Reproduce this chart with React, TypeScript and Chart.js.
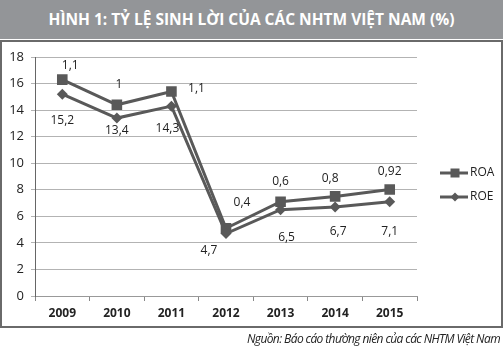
import React, { useEffect, useRef } from "react";
import { Chart, registerables } from "chart.js";

Chart.register(...registerables);

const TITLE = "HÌNH 1: TỶ LỆ SINH LỜI CỦA CÁC NHTM VIỆT NAM (%)";
const SOURCE = "Nguồn: Báo cáo thường niên của các NHTM Việt Nam";
const years = ["2009", "2010", "2011", "2012", "2013", "2014", "2015"];
const roe = [15.2, 13.4, 14.3, 4.7, 6.5, 6.7, 7.1];
const roa = [1.1, 1, 1.1, 0.4, 0.6, 0.8, 0.92];
const yTicks = [0, 2, 4, 6, 8, 10, 12, 14, 16, 18];

const LINE = "#595959";

const fmt = (v: number) => String(v).replace(".", ",");

// label offsets (dx, dy) relative to each point, per dataset
const labelOffsets: Record<string, [number, number][]> = {
  ROA: [[8, -14], [2, -20], [25, -3], [16, -26], [0, -20], [-5, -18], [0, -18]],
  ROE: [[0, 26], [0, 13], [-4, 22], [-17, 17], [6, 28], [3, 25], [0, 30]],
};

const labelPlugin = {
  id: "valueLabels",
  afterDatasetsDraw(chart: any) {
    const ctx = chart.ctx;
    ctx.save();
    ctx.font = "12px 'Open Sans'";
    ctx.fillStyle = "#222";
    ctx.textAlign = "center";
    ctx.textBaseline = "middle";
    chart.data.datasets.forEach((ds: any, i: number) => {
      const meta = chart.getDatasetMeta(i);
      const offs = labelOffsets[ds.label];
      meta.data.forEach((pt: any, j: number) => {
        const [dx, dy] = offs[j];
        ctx.fillText(fmt(ds.data[j]), pt.x + dx, pt.y + dy);
      });
    });
    ctx.restore();
  },
};

const legendPlugin = {
  id: "customLegend",
  afterDraw(chart: any) {
    const ctx = chart.ctx;
    const area = chart.chartArea;
    const order = [...chart.data.datasets].reverse();
    const x0 = area.right + 23;
    const top = area.top + 116;
    ctx.save();
    order.forEach((ds: any, k: number) => {
      const y = top + k * 24;
      ctx.strokeStyle = LINE;
      ctx.lineWidth = 3;
      ctx.beginPath();
      ctx.moveTo(x0, y);
      ctx.lineTo(x0 + 28, y);
      ctx.stroke();
      ctx.fillStyle = LINE;
      const cx = x0 + 15;
      ctx.beginPath();
      if (ds.pointStyle === "rect") {
        ctx.rect(cx - 4.5, y - 4.5, 9, 9);
      } else {
        ctx.moveTo(cx - 4.5, y);
        ctx.lineTo(cx, y - 4.5);
        ctx.lineTo(cx + 4.5, y);
        ctx.lineTo(cx, y + 4.5);
        ctx.closePath();
      }
      ctx.fill();
      ctx.fillStyle = "#222";
      ctx.font = "12px 'Open Sans'";
      ctx.textAlign = "left";
      ctx.textBaseline = "middle";
      ctx.fillText(ds.label, x0 + 30, y);
    });
    ctx.restore();
  },
};

export default function App() {
  const ref = useRef<HTMLCanvasElement | null>(null);
  useEffect(() => {
    if (!ref.current) return;
    const chart = new Chart(ref.current, {
      type: "line",
      data: {
        labels: years,
        datasets: [
          {
            label: "ROE",
            data: roe,
            borderColor: LINE,
            backgroundColor: LINE,
            borderWidth: 3,
            pointStyle: "rectRot",
            pointRadius: 5.5,
            pointBorderWidth: 0,
            pointBackgroundColor: LINE,
            fill: false,
            tension: 0,
          },
          {
            label: "ROA",
            data: roa,
            borderColor: LINE,
            backgroundColor: LINE,
            borderWidth: 3,
            pointStyle: "rect",
            pointRadius: 7.5,
            pointBorderWidth: 0,
            pointBackgroundColor: LINE,
            fill: false,
            tension: 0,
          },
        ],
      },
      options: {
        animation: false,
        responsive: false,
        maintainAspectRatio: false,
        layout: { padding: { top: 17, right: 86, left: 0, bottom: 0 } },
        plugins: { legend: { display: false }, tooltip: { enabled: false } },
        scales: {
          x: {
            offset: true,
            grid: {
              offset: true,
              drawOnChartArea: false,
              color: "#888",
              tickLength: 5,
            },
            border: { color: "#999", width: 1 },
            ticks: {
              color: "#222",
              font: { family: "'Open Sans'", size: 12, weight: "bold" },
              padding: 5,
            },
            afterFit: (s: any) => {
              s.height = 30;
            },
          },
          y: {
            stacked: true,
            min: 0,
            max: 18,
            afterBuildTicks: (s: any) => {
              s.ticks = yTicks.map((v) => ({ value: v }));
            },
            grid: { color: "#b3b3b3", tickLength: 4, lineWidth: 1 },
            border: { color: "#666", width: 1 },
            ticks: {
              color: "#222",
              font: { family: "'Open Sans'", size: 13 },
              padding: 7,
            },
            afterFit: (s: any) => {
              s.width = 35;
            },
          },
        },
      },
      plugins: [labelPlugin, legendPlugin],
    });
    return () => chart.destroy();
  }, []);

  return (
    <div
      style={{
        position: "absolute",
        left: 0,
        top: 0,
        width: 503,
        height: 364,
        background: "#fff",
        overflow: "hidden",
      }}
    >
      <div
        style={{
          position: "absolute",
          left: 0,
          top: 0,
          width: 503,
          height: 39,
          background: "#939598",
          color: "#fff",
          fontFamily: "'Open Sans', sans-serif",
          fontWeight: 700,
          fontSize: 15.5,
          lineHeight: "39px",
          textAlign: "center",
          letterSpacing: 0,
        }}
      >
        {TITLE}
      </div>
      <canvas
        ref={ref}
        width={503}
        height={286}
        style={{ position: "absolute", left: 0, top: 40, width: 503, height: 286 }}
      />
      <div
        style={{
          position: "absolute",
          left: 0,
          top: 40,
          width: 499,
          height: 284,
          border: "2px solid #6a6a6a",
          pointerEvents: "none",
        }}
      />
      <div
        style={{
          position: "absolute",
          right: 3,
          top: 330,
          fontFamily: "'Open Sans', sans-serif",
          fontStyle: "italic",
          fontSize: 12,
          letterSpacing: -0.6,
          color: "#222",
          whiteSpace: "nowrap",
        }}
      >
        {SOURCE}
      </div>
    </div>
  );
}
